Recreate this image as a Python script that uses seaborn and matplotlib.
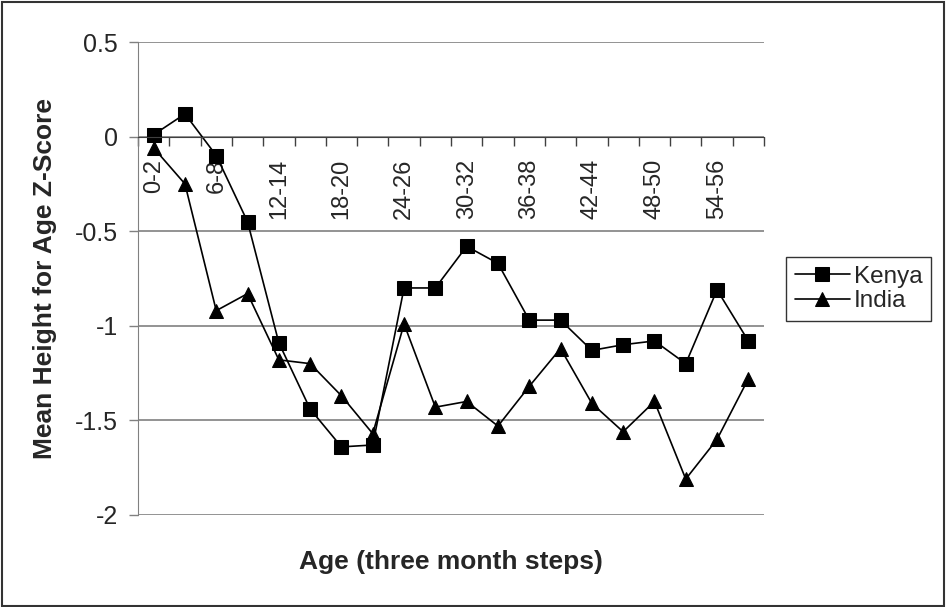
import numpy as np
import pandas as pd
import matplotlib
matplotlib.use("Agg")
import matplotlib.pyplot as plt
from matplotlib.patches import Rectangle
from matplotlib.ticker import FixedLocator, NullFormatter
import seaborn as sns

age_groups = ["0-2", "3-5", "6-8", "9-11", "12-14", "15-17", "18-20", "21-23",
              "24-26", "27-29", "30-32", "33-35", "36-38", "39-41", "42-44",
              "45-47", "48-50", "51-53", "54-56", "57-59"]
kenya = [0.01, 0.12, -0.10, -0.45, -1.09, -1.44, -1.64, -1.63, -0.80, -0.80,
         -0.58, -0.67, -0.97, -0.97, -1.13, -1.10, -1.08, -1.20, -0.81, -1.08]
india = [-0.06, -0.25, -0.92, -0.83, -1.18, -1.20, -1.37, -1.57, -0.99, -1.43,
         -1.40, -1.53, -1.32, -1.12, -1.41, -1.56, -1.40, -1.81, -1.60, -1.28]
countries = ["Kenya", "India"]

pos = np.arange(len(age_groups))
df = pd.DataFrame({
    "pos": np.concatenate([pos, pos]),
    "z": kenya + india,
    "country": ["Kenya"] * len(kenya) + ["India"] * len(india),
})

sns.set_style("white")
plt.rcParams["font.family"] = ["Liberation Sans", "DejaVu Sans"]

fig = plt.figure(figsize=(9.46, 6.07), dpi=100)
ax = fig.add_axes([138 / 946, 1 - 515 / 607, (764 - 138) / 946, (515 - 42) / 607])

sns.lineplot(data=df, x="pos", y="z", hue="country", style="country",
             hue_order=countries, style_order=countries,
             palette={"Kenya": "black", "India": "black"},
             markers={"Kenya": "s", "India": "^"}, dashes=False,
             markersize=9.5, markeredgecolor="black", linewidth=1.2, ax=ax)

ax.set_xlim(-0.5, len(age_groups) - 0.5)
ax.set_ylim(-2, 0.5)
ax.set_yticks([0.5, 0, -0.5, -1, -1.5, -2])
ax.set_yticklabels(["0.5", "0", "-0.5", "-1", "-1.5", "-2"])
ax.yaxis.grid(True, color="#808080", linewidth=1.2)
ax.set_axisbelow(True)

# category axis crossing at zero
ax.spines["bottom"].set_position(("data", 0))
ax.spines["bottom"].set_color("#404040")
ax.spines["left"].set_color("#808080")
ax.spines["top"].set_visible(False)
ax.spines["right"].set_visible(False)

ax.xaxis.set_major_locator(FixedLocator(np.arange(-0.5, len(age_groups), 1.0)))
ax.xaxis.set_major_formatter(NullFormatter())
ax.xaxis.set_minor_locator(FixedLocator(pos[::2]))
ax.set_xticklabels(age_groups[::2], minor=True, rotation=90, fontsize=17)
ax.tick_params(axis="x", which="major", direction="out", length=6.5, width=1,
               color="#404040", bottom=True)
ax.tick_params(axis="x", which="minor", length=0, pad=16, bottom=True)
for t in ax.xaxis.get_minorticklabels():
    t.set_va("top")
ax.tick_params(axis="y", direction="out", length=6.5, width=1, color="#808080",
               labelsize=18, pad=8, left=True)

ax.set_xlabel("Age (three month steps)", fontsize=19, fontweight="bold")
ax.xaxis.set_label_coords(0.5, -0.0995)
ax.xaxis.label.set_va("center")
ax.set_ylabel("Mean Height for Age Z-Score", fontsize=19, fontweight="bold")
ax.yaxis.set_label_coords(-0.1486, 0.5)
ax.yaxis.label.set_va("center")

sns.move_legend(ax, loc="upper left", bbox_to_anchor=(786 / 946, 1 - 257 / 607),
                bbox_transform=fig.transFigure, title=None, fontsize=17.5,
                frameon=True, fancybox=False, edgecolor="black",
                handlelength=2.3, handletextpad=0.15, borderpad=0.35,
                labelspacing=0.12, borderaxespad=0)
ax.get_legend().get_frame().set_linewidth(1)

fig.patches.append(Rectangle((2 / 946, 1 / 607), 942 / 946, 604 / 607,
                             transform=fig.transFigure, fill=False,
                             edgecolor="#333333", linewidth=1.5))

fig.savefig("out.png", dpi=100)
